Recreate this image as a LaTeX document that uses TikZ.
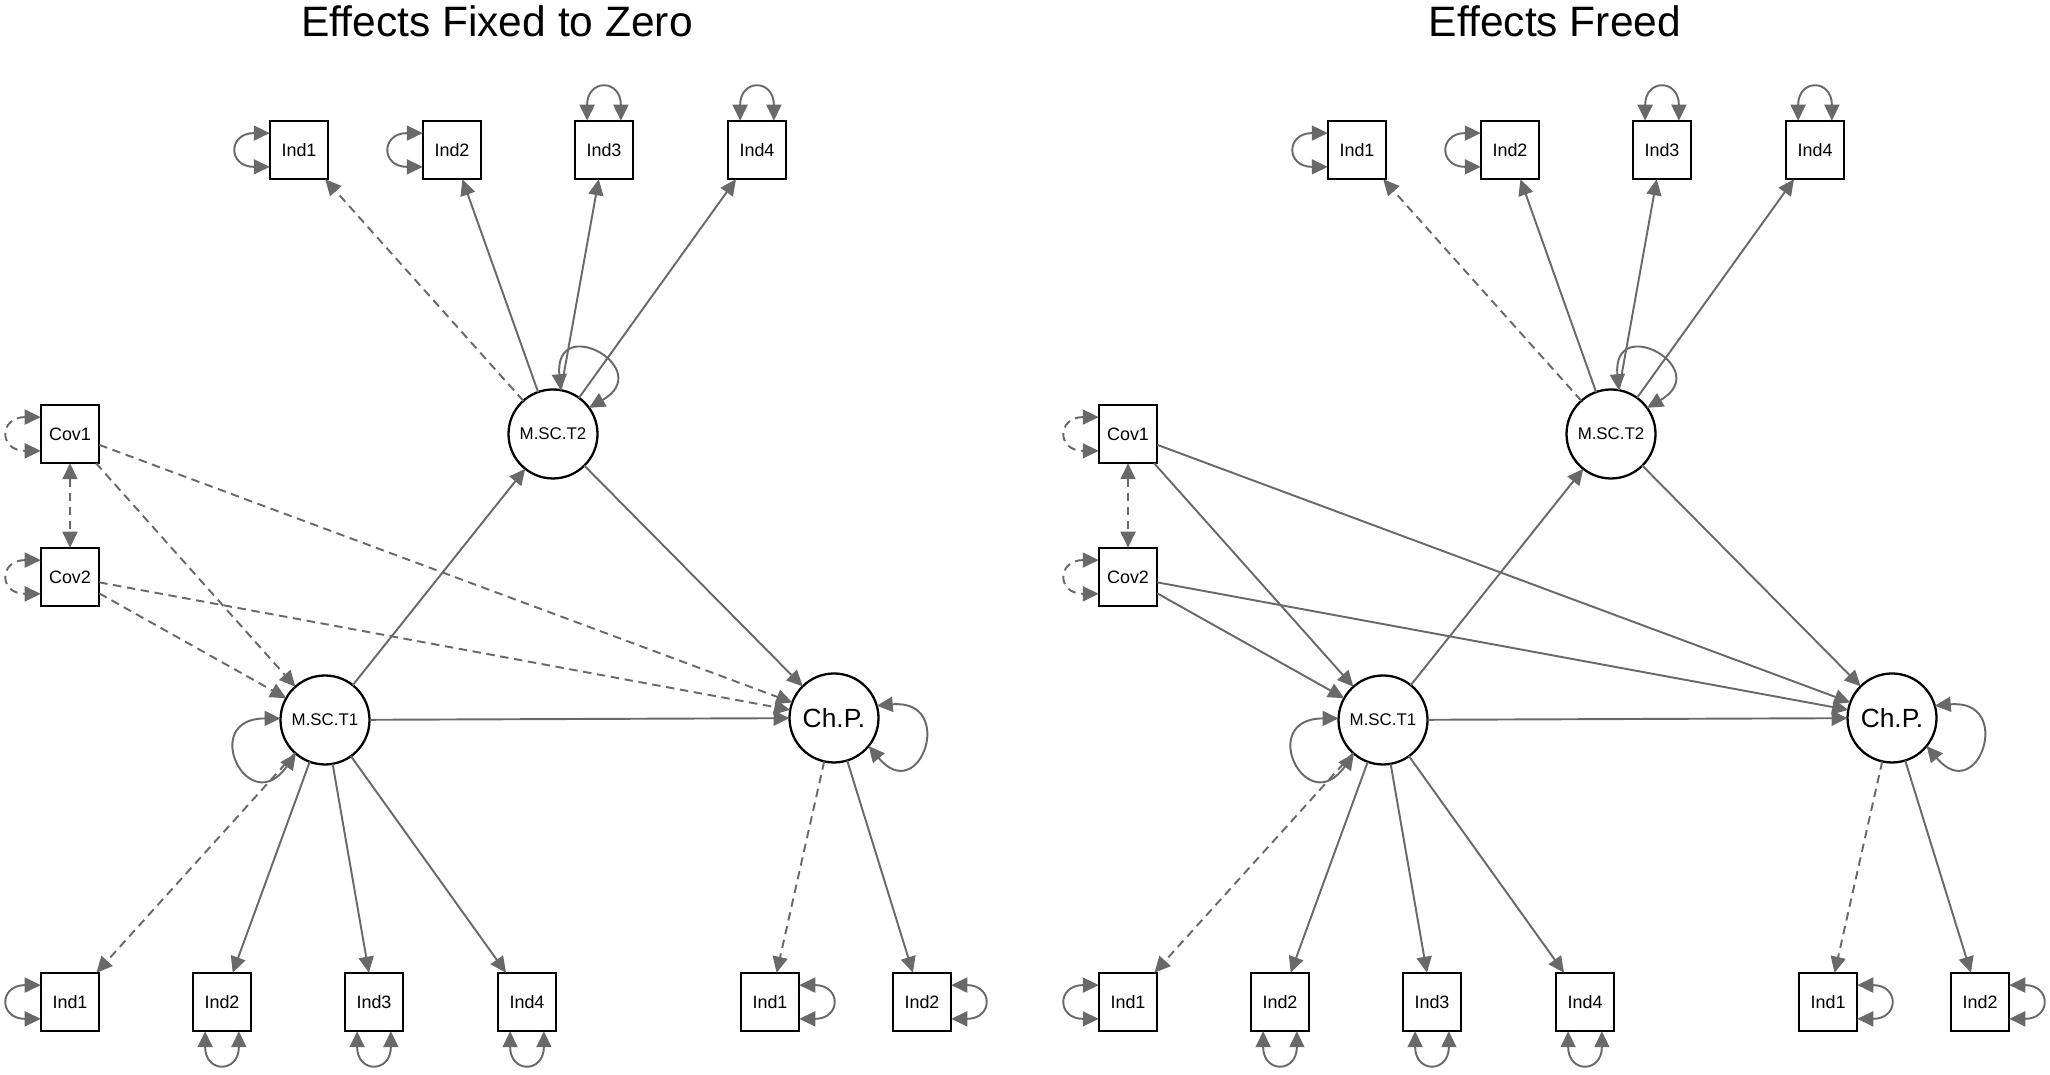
\documentclass[tikz,border=0pt]{standalone}
\usepackage{fontspec}
\setmainfont{Liberation Sans}
\usetikzlibrary{arrows.meta}
\definecolor{edgegray}{RGB}{105,105,105}

\begin{document}
\begin{tikzpicture}[>={Triangle[length=1.6mm,width=1.5mm]},
  obs/.style={draw, line width=0.65pt, minimum width=0.585cm, minimum height=0.585cm,
    inner sep=0pt, outer sep=0pt, font=\fontsize{5.1}{6}\selectfont},
  lat/.style={draw, circle, line width=0.65pt, minimum size=0.89cm,
    inner sep=0pt, outer sep=0pt, font=\fontsize{4.8}{6}\selectfont},
  load/.style={draw=edgegray, line width=0.55pt, ->},
  zero/.style={load, dash pattern=on 2.4pt off 1.6pt},
  resvar/.style={draw=edgegray, line width=0.55pt, <->, looseness=3.2},
  title/.style={anchor=base, font=\fontsize{12.1}{14}\selectfont}]
  % \begin{ai-tikz-planner-invisible-content}
  % 1. Two SEM path diagrams side by side.
  % 2. Latent circles, indicator boxes, covariates.
  % 3. Loadings, regressions and variance loops.
  % \end{ai-tikz-planner-invisible-content}
  \useasboundingbox (0,0) rectangle (20.5,10.75);

  % left: effects fixed to zero
  \node[title] (lTitle) at (4.97,10.38) {Effects Fixed to Zero};
  \node[lat] (lT2) at (5.53,6.41) {M.SC.T2};
  \node[lat] (lT1) at (3.25,3.55) {M.SC.T1};
  \node[lat, font=\fontsize{7.5}{9}\selectfont] (lChP) at (8.34,3.57) {Ch.P.};
  \node[obs] (lCov1) at (0.70,6.41) {Cov1};
  \node[obs] (lCov2) at (0.70,4.98) {Cov2};

  \node[obs] (lA1) at (2.99,9.25) {Ind1};
  \node[obs] (lA2) at (4.52,9.25) {Ind2};
  \node[obs] (lA3) at (6.04,9.25) {Ind3};
  \node[obs] (lA4) at (7.57,9.25) {Ind4};

  \node[obs] (lB1) at (0.70,0.73) {Ind1};
  \node[obs] (lB2) at (2.22,0.73) {Ind2};
  \node[obs] (lB3) at (3.74,0.73) {Ind3};
  \node[obs] (lB4) at (5.27,0.73) {Ind4};

  \node[obs] (lC1) at (7.70,0.73) {Ind1};
  \node[obs] (lC2) at (9.22,0.73) {Ind2};

  \draw[zero] (lT2) -- (lA1);
  \draw[load] (lT2) -- (lA2);
  \draw[load] (lT2) -- (lA3);
  \draw[load] (lT2) -- (lA4);
  \draw[zero] (lT1) -- (lB1);
  \draw[load] (lT1) -- (lB2);
  \draw[load] (lT1) -- (lB3);
  \draw[load] (lT1) -- (lB4);
  \draw[zero] (lChP) -- (lC1);
  \draw[load] (lChP) -- (lC2);

  \draw[load] (lT1) -- (lT2);
  \draw[load] (lT2) -- (lChP);
  \draw[load] (lT1) -- (lChP);
  \draw[zero] (lCov1) -- (lT1);
  \draw[zero] (lCov1) -- (lChP);
  \draw[zero] (lCov2) -- (lT1);
  \draw[zero] (lCov2) -- (lChP);
  \draw[zero, <->] (lCov1) -- (lCov2);

  \draw[resvar] (lA1.150) to[out=180, in=180] (lA1.210);
  \draw[resvar] (lA2.150) to[out=180, in=180] (lA2.210);
  \draw[resvar] (lA3.120) to[out=90, in=90] (lA3.60);
  \draw[resvar] (lA4.120) to[out=90, in=90] (lA4.60);
  \draw[resvar] (lB1.150) to[out=180, in=180] (lB1.210);
  \draw[resvar] (lB2.240) to[out=-90, in=-90] (lB2.300);
  \draw[resvar] (lB3.240) to[out=-90, in=-90] (lB3.300);
  \draw[resvar] (lB4.240) to[out=-90, in=-90] (lB4.300);
  \draw[resvar] (lC1.30) to[out=0, in=0] (lC1.-30);
  \draw[resvar] (lC2.30) to[out=0, in=0] (lC2.-30);
  \draw[resvar, dash pattern=on 2.4pt off 1.6pt] (lCov1.150) to[out=180, in=180] (lCov1.210);
  \draw[resvar, dash pattern=on 2.4pt off 1.6pt] (lCov2.150) to[out=180, in=180] (lCov2.210);
  \draw[resvar, looseness=6] (lT2.80) to[out=95, in=30] (lT2.36);
  \draw[resvar, looseness=5.5] (lT1.178) to[out=180, in=235] (lT1.229);
  \draw[resvar, looseness=5] (lChP.16) to[out=5, in=-50] (lChP.-39);

  % right: effects freed
  \begin{scope}[xshift=10.58cm]
  \node[title] (rTitle) at (4.97,10.38) {Effects Freed};
  \node[lat] (rT2) at (5.53,6.41) {M.SC.T2};
  \node[lat] (rT1) at (3.25,3.55) {M.SC.T1};
  \node[lat, font=\fontsize{7.5}{9}\selectfont] (rChP) at (8.34,3.57) {Ch.P.};
  \node[obs] (rCov1) at (0.70,6.41) {Cov1};
  \node[obs] (rCov2) at (0.70,4.98) {Cov2};

  \node[obs] (rA1) at (2.99,9.25) {Ind1};
  \node[obs] (rA2) at (4.52,9.25) {Ind2};
  \node[obs] (rA3) at (6.04,9.25) {Ind3};
  \node[obs] (rA4) at (7.57,9.25) {Ind4};

  \node[obs] (rB1) at (0.70,0.73) {Ind1};
  \node[obs] (rB2) at (2.22,0.73) {Ind2};
  \node[obs] (rB3) at (3.74,0.73) {Ind3};
  \node[obs] (rB4) at (5.27,0.73) {Ind4};

  \node[obs] (rC1) at (7.70,0.73) {Ind1};
  \node[obs] (rC2) at (9.22,0.73) {Ind2};

  \draw[zero] (rT2) -- (rA1);
  \draw[load] (rT2) -- (rA2);
  \draw[load] (rT2) -- (rA3);
  \draw[load] (rT2) -- (rA4);
  \draw[zero] (rT1) -- (rB1);
  \draw[load] (rT1) -- (rB2);
  \draw[load] (rT1) -- (rB3);
  \draw[load] (rT1) -- (rB4);
  \draw[zero] (rChP) -- (rC1);
  \draw[load] (rChP) -- (rC2);

  \draw[load] (rT1) -- (rT2);
  \draw[load] (rT2) -- (rChP);
  \draw[load] (rT1) -- (rChP);
  \draw[load] (rCov1) -- (rT1);
  \draw[load] (rCov1) -- (rChP);
  \draw[load] (rCov2) -- (rT1);
  \draw[load] (rCov2) -- (rChP);
  \draw[zero, <->] (rCov1) -- (rCov2);

  \draw[resvar] (rA1.150) to[out=180, in=180] (rA1.210);
  \draw[resvar] (rA2.150) to[out=180, in=180] (rA2.210);
  \draw[resvar] (rA3.120) to[out=90, in=90] (rA3.60);
  \draw[resvar] (rA4.120) to[out=90, in=90] (rA4.60);
  \draw[resvar] (rB1.150) to[out=180, in=180] (rB1.210);
  \draw[resvar] (rB2.240) to[out=-90, in=-90] (rB2.300);
  \draw[resvar] (rB3.240) to[out=-90, in=-90] (rB3.300);
  \draw[resvar] (rB4.240) to[out=-90, in=-90] (rB4.300);
  \draw[resvar] (rC1.30) to[out=0, in=0] (rC1.-30);
  \draw[resvar] (rC2.30) to[out=0, in=0] (rC2.-30);
  \draw[resvar, dash pattern=on 2.4pt off 1.6pt] (rCov1.150) to[out=180, in=180] (rCov1.210);
  \draw[resvar, dash pattern=on 2.4pt off 1.6pt] (rCov2.150) to[out=180, in=180] (rCov2.210);
  \draw[resvar, looseness=6] (rT2.80) to[out=95, in=30] (rT2.36);
  \draw[resvar, looseness=5.5] (rT1.178) to[out=180, in=235] (rT1.229);
  \draw[resvar, looseness=5] (rChP.16) to[out=5, in=-50] (rChP.-39);
  \end{scope}
\end{tikzpicture}
\end{document}
